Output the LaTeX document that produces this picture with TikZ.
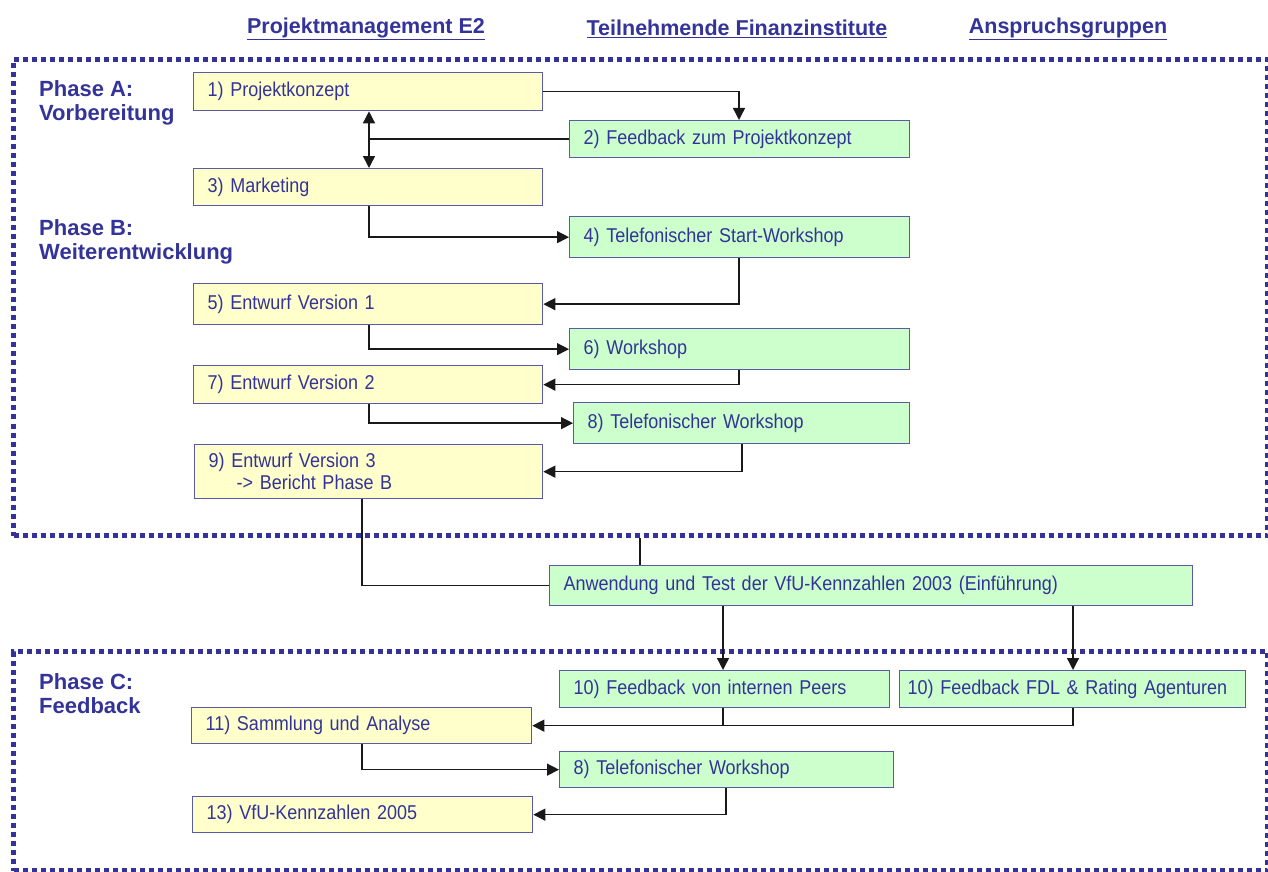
\documentclass[tikz,border=0pt]{standalone}
\usepackage{fontspec}
\setmainfont{Liberation Sans}
\newfontfamily\boxfont[FakeStretch=0.9]{Liberation Sans}
\usetikzlibrary{arrows.meta}
\definecolor{navy}{HTML}{333399}
\definecolor{boxline}{HTML}{5A5AAA}
\definecolor{yel}{HTML}{FFFFCC}
\definecolor{grn}{HTML}{CCFFCC}
\tikzset{
  box/.style={draw=boxline, line width=1.3pt, inner xsep=14pt, inner ysep=0pt,
    anchor=north west, align=left, text=navy,
    font=\boxfont\fontsize{20}{22}\selectfont},
  ybox/.style={box, fill=yel, text width=#1},
  gbox/.style={box, fill=grn, text width=#1},
  frame/.style={draw=navy, line width=5pt, dash pattern=on 5pt off 4pt,
    anchor=north west, inner sep=0pt},
  head/.style={text=navy, font=\bfseries\fontsize{21.5}{24}\selectfont},
  phase/.style={text=navy, anchor=north west, inner sep=0pt, align=left,
    font=\bfseries\fontsize{22}{24}\selectfont},
  link/.style={draw=black!90, line width=1.4pt},
  tip/.tip={Triangle[length=12pt,width=12pt]},
  arr/.style={link, -tip},
  darr/.style={link, tip-tip},
}
\begin{document}
\begin{tikzpicture}[x=1pt,y=-1pt]
\useasboundingbox (0,0) rectangle (1268,872);

% column headings
\node[head] (h1) at (366,29) {\underline{Projektmanagement E2}};
\node[head] (h2) at (737,29) {\underline{Teilnehmende Finanzinstitute}};
\node[head] (h3) at (1068,29) {\underline{Anspruchsgruppen}};

% phase frames
\node[frame, minimum width=1254pt, minimum height=476pt] (fr1) at (11,57) {};
\node[frame, minimum width=1254pt, minimum height=219pt] (fr2) at (11,649) {};

% phase labels
\node[phase] (la) at (39,80) {Phase A:\\Vorbereitung};
\node[phase] (lb) at (39,219) {Phase B:\\Weiterentwicklung};
\node[phase] (lc) at (39,673) {Phase C:\\Feedback};

% steps
\node[ybox=321pt, minimum height=38pt] (p1) at (193,72) {1) Projektkonzept};
\node[gbox=312pt, minimum height=37pt] (p2) at (569,120) {2) Feedback zum Projektkonzept};
\node[ybox=321pt, minimum height=37pt] (p3) at (193,168) {3) Marketing};
\node[gbox=312pt, minimum height=41pt] (p4) at (569,216) {4) Telefonischer Start-Workshop};
\node[ybox=321pt, minimum height=41pt] (p5) at (193,283) {5) Entwurf Version 1};
\node[gbox=312pt, minimum height=41pt] (p6) at (569,328) {6) Workshop};
\node[ybox=321pt, minimum height=38pt] (p7) at (193,365) {7) Entwurf Version 2};
\node[gbox=308pt, minimum height=41pt] (p8) at (573,402) {8) Telefonischer Workshop};
\node[ybox=320pt, minimum height=54pt] (p9) at (194,444) {9) Entwurf Version 3\\\hspace*{28pt}-> Bericht Phase B};
\node[gbox=615pt, minimum height=40pt] (pa) at (549,565) {Anwendung und Test der VfU-Kennzahlen 2003 (Einführung)};
\node[gbox=302pt, minimum height=37pt] (q1) at (559,670) {10) Feedback von internen Peers};
\node[gbox=330pt, inner xsep=8pt, minimum height=37pt] (q2) at (899,670) {\mbox{10) Feedback FDL \& Rating Agenturen}};
\node[ybox=312pt, minimum height=36pt] (q3) at (191,707) {11) Sammlung und Analyse};
\node[gbox=306pt, minimum height=36pt] (q4) at (559,751) {8) Telefonischer Workshop};
\node[ybox=312pt, minimum height=36pt] (q5) at (192,796) {13) VfU-Kennzahlen 2005};

% connector columns
\coordinate (xa) at (369,0);
\coordinate (xb) at (739,0);
\coordinate (xc) at (742,0);
\coordinate (xd) at (362,0);
\coordinate (xg) at (640,0);
\coordinate (xe) at (723,0);
\coordinate (xf) at (1073,0);
\coordinate (xh) at (726,0);

% connectors
\draw[arr] (p1.east) -| (p2.north -| xb);
\draw[link] (p2.west) -- (p2.west -| xa);
\draw[darr] (p1.south -| xa) -- (p3.north -| xa);
\draw[arr] (p3.south -| xa) |- (p4.west);
\draw[arr] (p4.south -| xb) |- (p5.east);
\draw[arr] (p5.south -| xa) |- (p6.west);
\draw[arr] (p6.south -| xb) |- (p7.east);
\draw[arr] (p7.south -| xa) |- (p8.west);
\draw[arr] (p8.south -| xc) |- (p9.east);
\draw[link] (p9.south -| xd) |- (pa.west);
\draw[link] (pa.north -| xg) -- (fr1.south -| xg);
\draw[arr] (pa.south -| xe) -- (q1.north -| xe);
\draw[arr] (pa.south -| xf) -- (q2.north -| xf);
\draw[link] (q1.south -| xe) -- (xe |- q3.east);
\draw[arr] (q2.south -| xf) |- (q3.east);
\draw[arr] (q3.south -| xd) |- (q4.west);
\draw[arr] (q4.south -| xh) |- (q5.east);
\end{tikzpicture}
\end{document}
